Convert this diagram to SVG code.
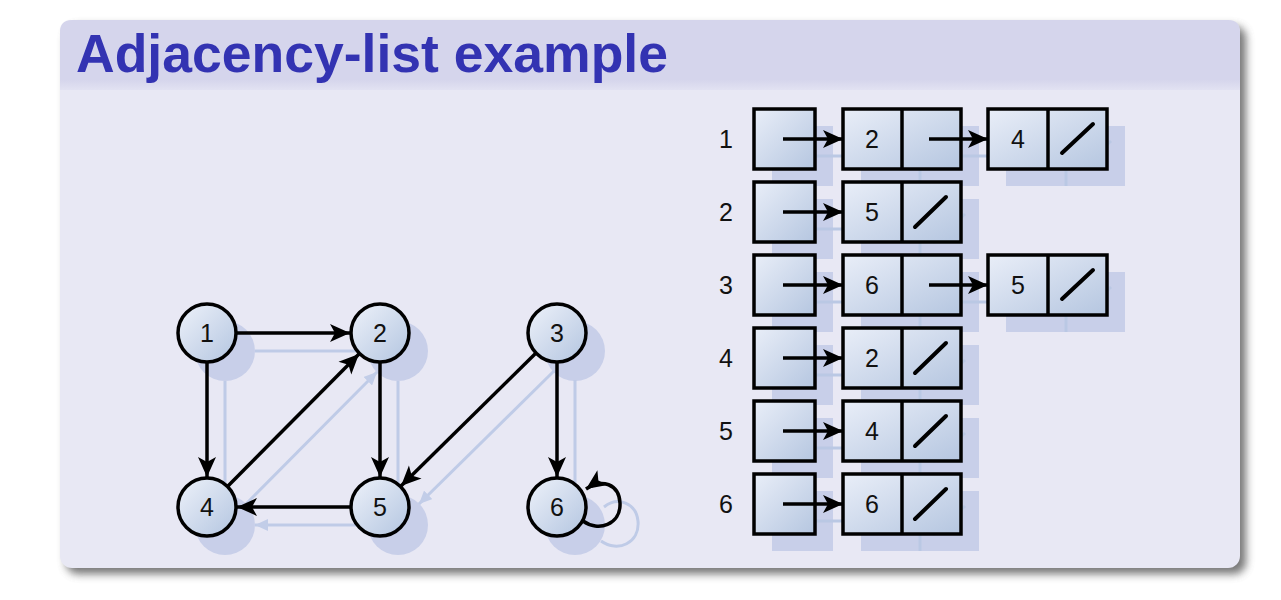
<svg xmlns="http://www.w3.org/2000/svg" width="1281" height="600" viewBox="0 0 1281 600">
<defs>
<filter id="pshadow" x="-5%" y="-5%" width="110%" height="115%"><feGaussianBlur stdDeviation="4"/></filter>
<linearGradient id="ng" x1="0" y1="0" x2="1" y2="1"><stop offset="0" stop-color="#eef2fa"/><stop offset="1" stop-color="#b3c5e0"/></linearGradient>
<linearGradient id="bg" x1="0" y1="0" x2="1" y2="1"><stop offset="0" stop-color="#e9eef8"/><stop offset="1" stop-color="#b5c6e0"/></linearGradient>
<linearGradient id="tb" x1="0" y1="0" x2="0" y2="1"><stop offset="0.85" stop-color="#d5d5ec"/><stop offset="1" stop-color="#e2e2f2"/></linearGradient>
<marker id="ah" markerWidth="22" markerHeight="22" refX="20" refY="10" orient="auto" markerUnits="userSpaceOnUse"><path d="M0,1 L20,10 L0,19 L5,10 Z" fill="#000"/></marker>
<marker id="sah" markerWidth="14" markerHeight="12" refX="13" refY="6" orient="auto" markerUnits="userSpaceOnUse"><path d="M0,0 L13,6 L0,12 Z" fill="#c2cde8"/></marker>
</defs>
<style>
.node circle{fill:url(#ng);stroke:#000;stroke-width:3.5}
.lbl{font-family:"Liberation Sans",Arial,sans-serif;font-size:25px;fill:#111;text-anchor:middle}
.edge{stroke:#000;stroke-width:3.5;fill:none;marker-end:url(#ah)}
.sh circle,.sh rect{fill:#c8cfe9;stroke:none}
.shl{stroke:#bfcbe7;stroke-width:3;fill:none}
.box{fill:url(#bg);stroke:#000;stroke-width:3.5}
.div{stroke:#000;stroke-width:3.5}
.slash{stroke:#000;stroke-width:4;stroke-linecap:round}
</style>
<rect x="0" y="0" width="1281" height="600" fill="#ffffff"/>
<rect x="66" y="26" width="1180" height="548" rx="12" fill="#555" filter="url(#pshadow)" opacity="0.8"/>
<rect x="60" y="20" width="1180" height="548" rx="12" fill="#e8e8f4"/>
<path d="M60,90 V32 Q60,20 72,20 H1228 Q1240,20 1240,32 V90 Z" fill="url(#tb)"/>
<text x="76" y="72" font-family="'Liberation Sans',Arial,sans-serif" font-weight="bold" font-size="54" fill="#3333b2" textLength="592" lengthAdjust="spacingAndGlyphs">Adjacency-list example</text>

<!-- shadows of graph -->
<g id="graph-shadow" class="sh" transform="translate(18,18)">
<circle cx="207" cy="333" r="30"/><circle cx="380" cy="333" r="30"/><circle cx="557" cy="333" r="30"/>
<circle cx="207" cy="507" r="30"/><circle cx="380" cy="507" r="30"/><circle cx="557" cy="507" r="30"/>
<line class="shl" x1="237" y1="333" x2="350" y2="333"/>
<line class="shl" x1="207" y1="363" x2="207" y2="477"/>
<line class="shl" x1="380" y1="363" x2="380" y2="477"/>
<line class="shl" x1="228" y1="486" x2="359" y2="354" marker-end="url(#sah)"/>
<line class="shl" x1="350" y1="507" x2="237" y2="507" marker-end="url(#sah)"/>
<line class="shl" x1="536" y1="353" x2="401" y2="486" marker-end="url(#sah)"/>
<line class="shl" x1="557" y1="362" x2="557" y2="477"/>
<path class="shl" d="M583,523 C600,535 622,525 620,503 C618,485 600,478 586,489"/>
</g>

<!-- list shadows -->
<g id="list-shadow" class="sh" transform="translate(18,17)">
<rect x="754" y="109" width="61" height="60"/><rect x="843" y="109" width="118" height="60"/><rect x="988" y="109" width="119" height="60"/>
<rect x="754" y="182" width="61" height="60"/><rect x="843" y="182" width="118" height="60"/>
<rect x="754" y="255" width="61" height="60"/><rect x="843" y="255" width="118" height="60"/><rect x="988" y="255" width="119" height="60"/>
<rect x="754" y="328" width="61" height="60"/><rect x="843" y="328" width="118" height="60"/>
<rect x="754" y="401" width="61" height="60"/><rect x="843" y="401" width="118" height="60"/>
<rect x="754" y="474" width="61" height="60"/><rect x="843" y="474" width="118" height="60"/>
<g stroke="#bac8e4" stroke-width="3">
<line x1="783" y1="139" x2="843" y2="139"/><line x1="929" y1="139" x2="988" y2="139"/><line x1="902" y1="109" x2="902" y2="169"/><line x1="1048" y1="109" x2="1048" y2="169"/><line x1="1061" y1="153" x2="1093" y2="124"/>
<line x1="783" y1="212" x2="843" y2="212"/><line x1="902" y1="182" x2="902" y2="242"/><line x1="915" y1="226" x2="947" y2="197"/>
<line x1="783" y1="285" x2="843" y2="285"/><line x1="929" y1="285" x2="988" y2="285"/><line x1="902" y1="255" x2="902" y2="315"/><line x1="1048" y1="255" x2="1048" y2="315"/><line x1="1061" y1="299" x2="1093" y2="270"/>
<line x1="783" y1="358" x2="843" y2="358"/><line x1="902" y1="328" x2="902" y2="388"/><line x1="915" y1="372" x2="947" y2="343"/>
<line x1="783" y1="431" x2="843" y2="431"/><line x1="902" y1="401" x2="902" y2="461"/><line x1="915" y1="445" x2="947" y2="416"/>
<line x1="783" y1="504" x2="843" y2="504"/><line x1="902" y1="474" x2="902" y2="534"/><line x1="915" y1="518" x2="947" y2="489"/>
</g>
</g>

<!-- graph connectors -->
<g id="connectors">
<line class="edge" x1="237" y1="333" x2="350" y2="333"/>
<line class="edge" x1="207" y1="363" x2="207" y2="477"/>
<line class="edge" x1="380" y1="363" x2="380" y2="477"/>
<line class="edge" x1="228" y1="486" x2="359" y2="354"/>
<line class="edge" x1="350" y1="507" x2="237" y2="507"/>
<line class="edge" x1="536" y1="353" x2="401" y2="486"/>
<line class="edge" x1="557" y1="362" x2="557" y2="477"/>
<path class="edge" d="M583,521 C598,532 621,525 620,503 C619,484 602,478 586,489"/>
</g>

<g id="node1" class="node"><circle cx="207" cy="333" r="29"/><text class="lbl" x="207" y="342">1</text></g>
<g id="node2" class="node"><circle cx="380" cy="333" r="29"/><text class="lbl" x="380" y="342">2</text></g>
<g id="node3" class="node"><circle cx="557" cy="333" r="29"/><text class="lbl" x="557" y="342">3</text></g>
<g id="node4" class="node"><circle cx="207" cy="507" r="29"/><text class="lbl" x="207" y="516">4</text></g>
<g id="node5" class="node"><circle cx="380" cy="507" r="29"/><text class="lbl" x="380" y="516">5</text></g>
<g id="node6" class="node"><circle cx="557" cy="507" r="29"/><text class="lbl" x="557" y="516">6</text></g>

<!-- adjacency lists -->
<g id="list1">
<text class="lbl" x="726" y="148">1</text>
<rect class="box" x="754" y="109" width="61" height="60"/>
<rect class="box" x="843" y="109" width="118" height="60"/><line class="div" x1="902" y1="109" x2="902" y2="169"/><text class="lbl" x="872" y="148">2</text>
<rect class="box" x="988" y="109" width="119" height="60"/><line class="div" x1="1048" y1="109" x2="1048" y2="169"/><text class="lbl" x="1018" y="148">4</text>
<line class="slash" x1="1062" y1="153" x2="1093" y2="124"/>
<line class="edge" x1="783" y1="139" x2="843" y2="139"/><line class="edge" x1="929" y1="139" x2="988" y2="139"/>
</g>
<g id="list2">
<text class="lbl" x="726" y="221">2</text>
<rect class="box" x="754" y="182" width="61" height="60"/>
<rect class="box" x="843" y="182" width="118" height="60"/><line class="div" x1="902" y1="182" x2="902" y2="242"/><text class="lbl" x="872" y="221">5</text>
<line class="slash" x1="915" y1="227" x2="946" y2="197"/>
<line class="edge" x1="783" y1="212" x2="843" y2="212"/>
</g>
<g id="list3">
<text class="lbl" x="726" y="294">3</text>
<rect class="box" x="754" y="255" width="61" height="60"/>
<rect class="box" x="843" y="255" width="118" height="60"/><line class="div" x1="902" y1="255" x2="902" y2="315"/><text class="lbl" x="872" y="294">6</text>
<rect class="box" x="988" y="255" width="119" height="60"/><line class="div" x1="1048" y1="255" x2="1048" y2="315"/><text class="lbl" x="1018" y="294">5</text>
<line class="slash" x1="1062" y1="299" x2="1093" y2="270"/>
<line class="edge" x1="783" y1="285" x2="843" y2="285"/><line class="edge" x1="929" y1="285" x2="988" y2="285"/>
</g>
<g id="list4">
<text class="lbl" x="726" y="367">4</text>
<rect class="box" x="754" y="328" width="61" height="60"/>
<rect class="box" x="843" y="328" width="118" height="60"/><line class="div" x1="902" y1="328" x2="902" y2="388"/><text class="lbl" x="872" y="367">2</text>
<line class="slash" x1="915" y1="373" x2="946" y2="343"/>
<line class="edge" x1="783" y1="358" x2="843" y2="358"/>
</g>
<g id="list5">
<text class="lbl" x="726" y="440">5</text>
<rect class="box" x="754" y="401" width="61" height="60"/>
<rect class="box" x="843" y="401" width="118" height="60"/><line class="div" x1="902" y1="401" x2="902" y2="461"/><text class="lbl" x="872" y="440">4</text>
<line class="slash" x1="915" y1="446" x2="946" y2="416"/>
<line class="edge" x1="783" y1="431" x2="843" y2="431"/>
</g>
<g id="list6">
<text class="lbl" x="726" y="513">6</text>
<rect class="box" x="754" y="474" width="61" height="60"/>
<rect class="box" x="843" y="474" width="118" height="60"/><line class="div" x1="902" y1="474" x2="902" y2="534"/><text class="lbl" x="872" y="513">6</text>
<line class="slash" x1="915" y1="519" x2="946" y2="489"/>
<line class="edge" x1="783" y1="504" x2="843" y2="504"/>
</g>
</svg>
